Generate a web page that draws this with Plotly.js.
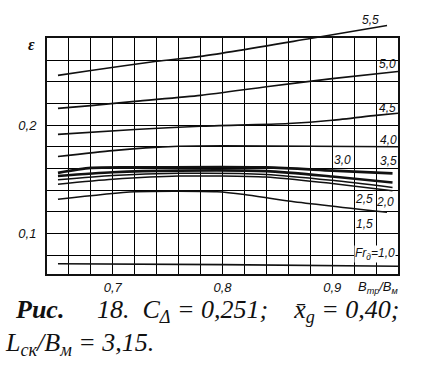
<!DOCTYPE html>
<html><head><meta charset="utf-8">
<script src="https://cdn.plot.ly/plotly-3.0.1.min.js"></script>
<style>html,body{margin:0;padding:0;background:#fff}#chart{width:429px;height:375px}</style>
</head><body><div id="chart"></div>
<script>
// Data (x = B_тр/B_м, y = ε)
const xFr55 = [0.65, 0.68, 0.74, 0.78, 0.88, 0.95];
const yFr55 = [0.246, 0.2505, 0.259, 0.2635, 0.280, 0.292];
const xFr50 = [0.65, 0.68, 0.72, 0.78, 0.84, 0.90, 0.96];
const yFr50 = [0.2155, 0.218, 0.222, 0.2275, 0.2355, 0.243, 0.2495];
const xFr45 = [0.65, 0.72, 0.78, 0.86, 0.90, 0.94, 0.96];
const yFr45 = [0.1915, 0.196, 0.199, 0.2015, 0.2045, 0.209, 0.211];
const xFr40 = [0.65, 0.70, 0.73, 0.76, 0.80, 0.88, 0.96];
const yFr40 = [0.171, 0.1765, 0.179, 0.1805, 0.181, 0.1805, 0.180];
const xFr35 = [0.65, 0.68, 0.72, 0.84, 0.90, 0.955];
const yFr35 = [0.156, 0.1605, 0.161, 0.161, 0.158, 0.1555];
const xFr30 = [0.65, 0.70, 0.76, 0.84, 0.90, 0.955];
const yFr30 = [0.153, 0.1565, 0.158, 0.1575, 0.1525, 0.147];
const xFr25 = [0.65, 0.70, 0.76, 0.84, 0.90, 0.955];
const yFr25 = [0.1495, 0.1535, 0.1555, 0.1545, 0.149, 0.1425];
const xFr20 = [0.65, 0.70, 0.76, 0.84, 0.90, 0.955];
const yFr20 = [0.1455, 0.150, 0.153, 0.152, 0.146, 0.1395];
const xFr15 = [0.65, 0.72, 0.795, 0.82, 0.86, 0.95];
const yFr15 = [0.1315, 0.1385, 0.1385, 0.136, 0.130, 0.1195];
const xFr10 = [0.65, 0.80, 0.96];
const yFr10 = [0.072, 0.0712, 0.0697];

const xTickVals = [0.7, 0.8, 0.9];
const xTickText = ['0,7', '0,8', '0,9'];
const yTickVals = [0.1, 0.2];
const yTickText = ['0,1', '0,2'];
const gridStep = 0.02;
const curveLabels = ['5,5','5,0','4,5','4,0','3,5','3,0','2,5','2,0','1,5','Fr<sub>д</sub>=1,0'];

const X0 = 0.64, X1 = 0.96, Y0 = 0.0625, Y1 = 0.2805;
const D = 236/254;

const ink = '#111';
const gridCol = '#000';
function tr(x, y, w, extra) {
  return Object.assign({x: x, y: y, type: 'scatter', mode: 'lines', hoverinfo: 'skip',
    line: {color: ink, width: w, shape: 'spline', smoothing: 0.7}}, extra || {});
}
const traces = [
  tr(xFr55, yFr55, 1.6, {xaxis: 'x2', yaxis: 'y2'}),
  tr(xFr50, yFr50, 1.6),
  tr(xFr45, yFr45, 1.6),
  tr(xFr40, yFr40, 1.6),
  tr(xFr35, yFr35, 2.8),
  tr(xFr30, yFr30, 2.6),
  tr(xFr25, yFr25, 1.5),
  tr(xFr20, yFr20, 1.5),
  tr(xFr15, yFr15, 1.6),
  tr(xFr10, yFr10, 1.6)
];

const lblFont = {family: 'Liberation Sans, Arial, sans-serif', size: 12, color: ink, style: 'italic'};
function lab(i, x, y, yref, extra) {
  return Object.assign({text: curveLabels[i], x: x, y: y, xref: 'x', yref: yref || 'y', showarrow: false,
    font: lblFont, xanchor: 'center', yanchor: 'middle'}, extra || {});
}
const capFont = {family: 'Liberation Serif, Times New Roman, serif', size: 26, color: ink, style: 'italic'};
const nb = n => '\u00A0'.repeat(n);
const tickFont = {family: 'Liberation Sans, Arial, sans-serif', size: 13, color: ink, style: 'italic'};

const layout = {
  width: 429, height: 375,
  margin: {l: 47, r: 31, t: 20, b: 101, pad: 0},
  paper_bgcolor: '#fff', plot_bgcolor: 'rgba(0,0,0,0)',
  showlegend: false, hovermode: false,
  xaxis: {range: [X0, X1], domain: [0, 1], anchor: 'y', tickmode: 'array', tickvals: xTickVals, ticktext: xTickText,
    showgrid: true, gridcolor: gridCol, gridwidth: 1, zeroline: false, showline: true, mirror: true,
    minor: {tick0: X0, dtick: gridStep, showgrid: true, gridcolor: gridCol, gridwidth: 1, ticks: ''},
    linecolor: ink, linewidth: 2, ticks: '', ticklabelstandoff: 0, tickfont: tickFont, fixedrange: true},
  yaxis: {range: [Y0, Y1], domain: [0, D], anchor: 'x', tickmode: 'array', tickvals: yTickVals, ticktext: yTickText,
    showgrid: true, gridcolor: gridCol, gridwidth: 1, zeroline: false, showline: true, mirror: true,
    minor: {tick0: 0.08, dtick: gridStep, showgrid: true, gridcolor: gridCol, gridwidth: 1, ticks: ''},
    linecolor: ink, linewidth: 2, ticks: '', ticklabelstandoff: 6, tickfont: tickFont, fixedrange: true},
  xaxis2: {range: [X0, X1], domain: [0, 1], anchor: 'y2', visible: false, showgrid: false, zeroline: false, fixedrange: true},
  yaxis2: {range: [Y0, Y0 + (Y1 - Y0) / D], domain: [0, 1], anchor: 'x2', visible: false, showgrid: false, zeroline: false, fixedrange: true},
  annotations: [
    lab(0, 0.9345, 0.2967, 'y2'),
    lab(1, 0.950, 0.2561),
    lab(2, 0.950, 0.2163),
    lab(3, 0.951, 0.1859),
    lab(4, 0.951, 0.1665),
    lab(5, 0.909, 0.1674),
    lab(6, 0.929, 0.1314),
    lab(7, 0.948, 0.1286),
    lab(8, 0.929, 0.1083),
    lab(9, 0.939, 0.0812, 'y', {bgcolor: '#fff', borderpad: 0}),
    {text: 'ε', xref: 'paper', yref: 'paper', x: (31 - 47) / 351, y: (274 - 44) / 254, showarrow: false,
      xanchor: 'center', yanchor: 'middle',
      font: {family: 'Liberation Serif, serif', size: 16, color: ink, style: 'italic', weight: 'bold'}},
    {text: 'B<sub>тр</sub>/B<sub>м</sub>', xref: 'paper', yref: 'paper', x: (378 - 47) / 351, y: (274 - 287) / 254,
      xanchor: 'center', yanchor: 'middle',
      showarrow: false, font: tickFont},
    {text: '<b>Рис.</b>' + nb(5) + '18.' + nb(2) + 'C<sub>Δ</sub> = 0,251;' + nb(4) + 'x̄<sub>g</sub> = 0,40;',
      xref: 'paper', yref: 'paper', x: (13 - 47) / 351, y: (274 - 311) / 254, xanchor: 'left', yanchor: 'middle',
      showarrow: false, font: capFont},
    {text: 'L<sub>ск</sub>/B<sub>м</sub> = 3,15.',
      xref: 'paper', yref: 'paper', x: (3 - 47) / 351, y: (274 - 344) / 254, xanchor: 'left', yanchor: 'middle',
      showarrow: false, font: capFont}
  ]
};
Plotly.newPlot('chart', traces, layout, {displayModeBar: false, responsive: false});
</script></body></html>
